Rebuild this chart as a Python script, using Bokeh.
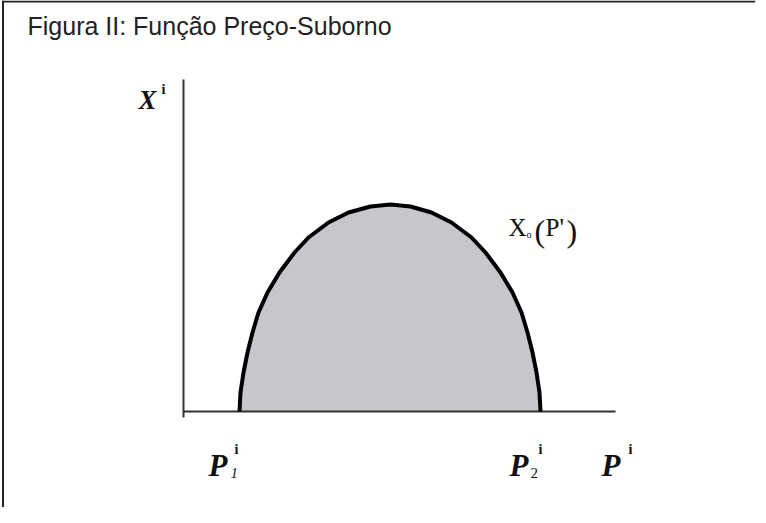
from bokeh.plotting import figure
from bokeh.models import Range1d, Label
from bokeh.embed import file_html
from bokeh.resources import INLINE

# ---- data (x = price axis, y = quantity axis) ----
curve_x = [56, 57, 60, 64, 69, 75, 84, 96, 111, 125, 145, 165, 187, 207,
           227, 248, 268, 288, 302, 317, 329, 338, 344, 349, 353, 356, 357]
curve_y = [0, 19, 39, 59, 79, 99, 119, 139, 159, 174, 189, 199, 205, 207,
           205, 199, 189, 174, 159, 139, 119, 99, 79, 59, 39, 19, 0]

axis_x_end = 432
axis_y_start = -6
axis_y_end = 332

title_text = "Figura II: Função Preço-Suborno"
y_axis_label = "X"
x_axis_label = "P"
tick_label_1 = "P"
tick_label_2 = "P"
curve_label = "X"

p = figure(width=758, height=507, output_backend="svg", toolbar_location=None,
           x_range=Range1d(-183, 572), y_range=Range1d(-96, 411),
           x_axis_location=None, y_axis_location=None,
           min_border_left=0, min_border_top=0, min_border_bottom=0,
           min_border_right=3)
p.grid.visible = False
p.outline_line_color = None
p.background_fill_color = "white"
p.border_fill_color = "white"

# shaded area under the curve
p.patch(curve_x, curve_y, fill_color="#c8c6ca", line_color=None)

# frame border (top and left edges only, as in the cropped original)
p.segment(x0=[-181.5, -180.5], y0=[410, 411], x1=[572, -180.5], y1=[410, -96],
          line_color="#222222", line_width=2)

# axes
p.segment(x0=[0], y0=[0], x1=[axis_x_end], y1=[0], line_color="#333333", line_width=2)
p.segment(x0=[0], y0=[axis_y_start], x1=[0], y1=[axis_y_end], line_color="#333333", line_width=2)

# curve
p.line(curve_x, curve_y, line_color="black", line_width=4, line_join="round")

def lab(x, y, t, font, size, style="normal", color="#111111"):
    p.add_layout(Label(x=x, y=y, text=t, text_font=font, text_font_size=size,
                       text_font_style=style, text_color=color,
                       text_baseline="alphabetic", text_align="left"))

serif = "Liberation Serif"
# title
lab(-156, 386, title_text, "Liberation Sans", "25px", color="#222222")

# Y axis label X^i
lab(-45, 312, y_axis_label, serif, "27px", "bold italic")
lab(-22, 322, "i", serif, "14px", "bold")

# P_1^i
lab(25, -54, tick_label_1, serif, "31px", "bold italic")
lab(47, -61, "1", serif, "15px", "italic")
lab(51, -38, "i", serif, "14px", "bold")

# P_2^i
lab(326, -54, tick_label_2, serif, "31px", "bold italic")
lab(347, -61, "2", serif, "15px", "normal")
lab(355, -38, "i", serif, "14px", "bold")

# P^i
lab(418, -54, x_axis_label, serif, "31px", "bold italic")
lab(445, -38, "i", serif, "14px", "bold")

# X_o(P')
lab(325, 184, curve_label, serif, "25px", "normal")
lab(343, 177, "o", serif, "10px", "normal")
lab(351, 181, "(", serif, "32px", "normal")
lab(362, 184, "P'", serif, "25px", "normal")
lab(383, 181, ")", serif, "32px", "normal")

open("out.html", "w").write(file_html(p, INLINE))
